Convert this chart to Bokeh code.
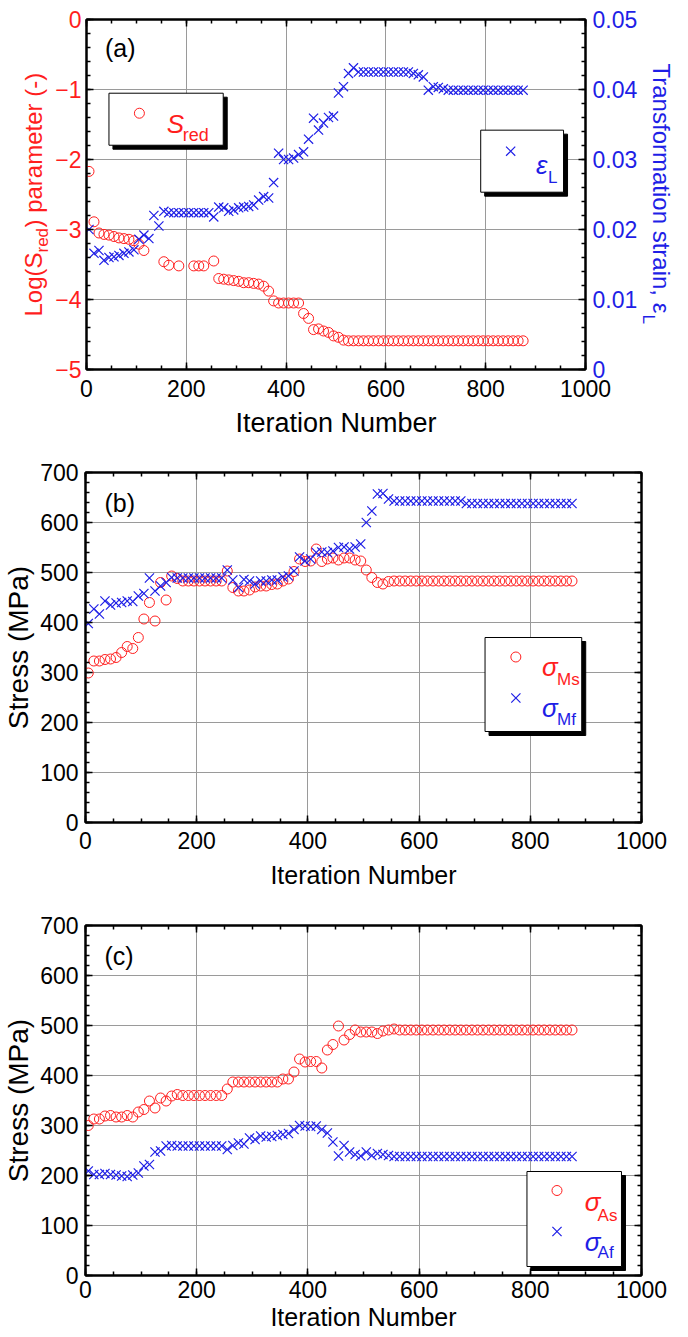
from bokeh.plotting import figure
from bokeh.layouts import row
from bokeh.models import (Range1d, LinearAxis, Label, SingleIntervalTicker,
                          CustomJSTickFormatter)
from bokeh.core.properties import value
from bokeh.embed import file_html
from bokeh.resources import INLINE

NAN = float("nan")

# ---------------- data ----------------
iterations = [5, 15, 25, 35, 45, 55, 65, 75, 85, 95, 105, 115, 125, 135, 145, 155,
              165, 175, 185, 195, 205, 215, 225, 235, 245, 255, 265, 275, 285, 295,
              305, 315, 325, 335, 345, 355, 365, 375, 385, 395, 405, 415, 425, 435,
              445, 455, 465, 475, 485, 495, 505, 515, 525, 535, 545, 555, 565, 575,
              585, 595, 605, 615, 625, 635, 645, 655, 665, 675, 685, 695, 705, 715,
              725, 735, 745, 755, 765, 775, 785, 795, 805, 815, 825, 835, 845, 855,
              865, 875]

log_s_red = [-2.17, -2.89, -3.05, -3.07, -3.08, -3.10, -3.12, -3.13, -3.14, -3.16,
             -3.21, -3.30, NAN, NAN, NAN, -3.46, -3.51, NAN, -3.52, NAN, NAN, -3.52,
             -3.52, -3.52, NAN, -3.45, -3.70, -3.71, -3.72, -3.73, -3.74, -3.76,
             -3.76, -3.77, -3.78, -3.81, -3.88, -4.02, -4.05, -4.05, -4.05, -4.05,
             -4.05, -4.20, -4.27, -4.43, -4.42, -4.45, -4.47, -4.52, -4.54, -4.58,
             -4.59, -4.59, -4.59, -4.59, -4.59, -4.59, -4.59, -4.59, -4.59, -4.59,
             -4.59, -4.59, -4.59, -4.59, -4.59, -4.59, -4.59, -4.59, -4.59, -4.59,
             -4.59, -4.59, -4.59, -4.59, -4.59, -4.59, -4.59, -4.59, -4.59, -4.59,
             -4.59, -4.59, -4.59, -4.59, -4.59, -4.59]

eps_l = [0.0200, 0.0166, 0.0170, 0.0156, 0.0160, 0.0161, 0.0163, 0.0166, 0.0168,
         0.0171, 0.0186, 0.0192, 0.0187, 0.0220, 0.0205, 0.0226, 0.0224, 0.0224,
         0.0224, 0.0224, 0.0224, 0.0224, 0.0224, 0.0224, 0.0224, 0.0218, 0.0232,
         0.0231, 0.0226, 0.0228, 0.0231, 0.0232, 0.0233, 0.0235, 0.0242, 0.0247,
         0.0245, 0.0267, 0.0309, 0.0300, 0.0300, 0.0302, 0.0307, 0.0311, 0.0329,
         0.0359, 0.0342, 0.0352, 0.0360, 0.0362, 0.0395, 0.0404, 0.0423, 0.0431,
         0.0425, 0.0425, 0.0425, 0.0425, 0.0425, 0.0425, 0.0425, 0.0425, 0.0425,
         0.0425, 0.0425, 0.0423, 0.0421, 0.0418, 0.0399, 0.0404, 0.0403, 0.0401,
         0.0399, 0.0399, 0.0399, 0.0399, 0.0399, 0.0399, 0.0399, 0.0399, 0.0399,
         0.0399, 0.0399, 0.0399, 0.0399, 0.0399, 0.0399, 0.0399]

sigma_ms = [299, 323, 323, 326, 327, 330, 340, 352, 348, 370, 407, 440, 403, 480,
            445, 493, 488, 483, 483, 483, 483, 483, 483, 483, 483, 503, 470, 463,
            463, 465, 471, 473, 473, 476, 477, 483, 487, 502, 527, 522, 523, 547,
            522, 527, 529, 525, 529, 529, 525, 523, 505, 490, 480, 477, 482, 483,
            483, 483, 483, 483, 483, 483, 483, 483, 483, 483, 483, 483, 483, 483,
            483, 483, 483, 483, 483, 483, 483, 483, 483, 483, 483, 483, 483, 483,
            483, 483, 483, 483]

sigma_mf = [398, 427, 417, 443, 435, 439, 440, 443, 442, 453, 458, 489, 463, 473,
            480, 490, 489, 489, 489, 489, 489, 489, 489, 489, 489, 505, 485, 470,
            486, 483, 477, 483, 483, 485, 485, 491, 493, 503, 531, 523, 527, 540,
            541, 540, 543, 550, 551, 547, 551, 557, 600, 623, 657, 658, 647, 643,
            643, 643, 643, 643, 643, 643, 643, 643, 643, 643, 643, 643, 638, 638,
            638, 638, 638, 638, 638, 638, 638, 638, 638, 638, 638, 638, 638, 638,
            638, 638, 638, 638]

sigma_as = [300, 313, 313, 319, 320, 317, 317, 320, 317, 327, 332, 349, 335, 355,
            349, 359, 362, 360, 360, 360, 360, 360, 360, 360, 360, 373, 387, 387,
            387, 387, 387, 387, 387, 387, 387, 393, 393, 407, 433, 427, 428, 428,
            415, 451, 462, 499, 471, 482, 491, 487, 487, 487, 484, 489, 491, 493,
            491, 491, 491, 491, 491, 491, 491, 491, 491, 491, 491, 491, 491, 491,
            491, 491, 491, 491, 491, 491, 491, 491, 491, 491, 491, 491, 491, 491,
            491, 491, 491, 491]

sigma_af = [209, 202, 202, 204, 202, 201, 199, 198, 201, 205, 219, 222, 247, 249,
            259, 260, 259, 259, 259, 259, 259, 259, 259, 259, 259, 252, 260, 265,
            263, 275, 272, 279, 277, 278, 280, 282, 284, 292, 300, 299, 298, 299,
            292, 285, 267, 239, 260, 247, 242, 239, 247, 240, 244, 242, 240, 238,
            238, 238, 238, 238, 238, 238, 238, 238, 238, 238, 238, 238, 238, 238,
            238, 238, 238, 238, 238, 238, 238, 238, 238, 238, 238, 238, 238, 238,
            238, 238, 238, 238]

x_title = "Iteration Number"
stress_title = "Stress (MPa)"

# ---------------- style ----------------
FONT = "Liberation Sans"
RED = "#ff1e1e"
BLUE = "#1e1ee6"
GRID = "#9a9a9a"
ROT = 1.5707963267948966


def blank_fmt():
    return CustomJSTickFormatter(code="return ''")


def style_axis(ax, size, color="black", blank=False):
    ax.axis_line_color = "black"
    ax.axis_line_width = 2
    ax.major_tick_in = 7
    ax.major_tick_out = 0
    ax.minor_tick_in = 4
    ax.minor_tick_out = 0
    ax.major_tick_line_color = "black"
    ax.minor_tick_line_color = "black"
    ax.major_tick_line_width = 1.5
    ax.minor_tick_line_width = 1.5
    ax.major_label_text_font = FONT
    ax.major_label_text_color = color
    ax.axis_label_text_font = FONT
    ax.axis_label_text_font_style = "normal"
    ax.axis_label_text_color = color
    if blank:
        ax.formatter = blank_fmt()
        ax.major_label_text_font_size = "0px"
        ax.major_label_standoff = 0
    else:
        ax.major_label_text_font_size = size
        ax.major_label_standoff = 7


def base_fig(width, height, left_border, right_border, top_border, bottom_border,
             y0, y1, yint, tick_size, title_size):
    p = figure(width=width, height=height, x_range=Range1d(0, 1000),
               y_range=Range1d(y0, y1), min_border_left=left_border,
               min_border_right=right_border, min_border_top=top_border,
               min_border_bottom=bottom_border, output_backend="svg",
               toolbar_location=None)
    p.outline_line_color = "black"
    p.outline_line_width = 2
    p.outline_line_alpha = 1
    p.background_fill_color = "white"
    p.border_fill_color = "white"
    xa = p.below[0]
    ya = p.left[0]
    xa.ticker = SingleIntervalTicker(interval=200, num_minor_ticks=4)
    ya.ticker = SingleIntervalTicker(interval=yint, num_minor_ticks=5)
    style_axis(xa, tick_size)
    style_axis(ya, tick_size)
    xa.axis_label = x_title
    xa.axis_label_text_font_size = title_size
    p.xgrid.grid_line_color = GRID
    p.ygrid.grid_line_color = GRID
    p.xgrid.grid_line_width = 1
    p.ygrid.grid_line_width = 1
    top = LinearAxis(ticker=SingleIntervalTicker(interval=200, num_minor_ticks=4))
    style_axis(top, tick_size, blank=True)
    p.add_layout(top, "above")
    return p, xa, ya


def legend_box(p, left, right, top, bottom, dx, dy):
    p.quad(left=[left + dx], right=[right + dx], top=[top - dy], bottom=[bottom - dy],
           fill_color="black", line_color="black")
    p.quad(left=[left], right=[right], top=[top], bottom=[bottom],
           fill_color="white", line_color="black", line_width=1)


def lab(p, x, y, text, size, color, italic=False):
    p.add_layout(Label(x=x, y=y, text=text, text_font=FONT, text_font_size=size,
                       text_color=color, text_font_style="italic" if italic else "normal",
                       text_align="left", text_baseline="alphabetic"))


def strip(width, x0, x1):
    s = figure(width=width, height=453, x_range=Range1d(x0, x1),
               y_range=Range1d(369, 19), min_border_left=0, min_border_right=0,
               min_border_top=19, min_border_bottom=84, x_axis_location=None,
               y_axis_location=None, output_backend="svg", toolbar_location=None)
    s.outline_line_color = None
    s.xgrid.visible = False
    s.ygrid.visible = False
    s.background_fill_color = "white"
    s.border_fill_color = "white"
    return s


def stext(s, x, y, text, size, color, angle):
    s.text(x=[x], y=[y], text=[text], angle=angle, text_font=value(FONT),
           text_font_size=value(size), text_color=color, text_align="left",
           text_baseline="alphabetic")


MS_C = 10
MS_X = 13
LW_X = 1.2

# ---------------- panel (a) ----------------
pa, xa_a, ya_a = base_fig(588, 453, 31, 51, 19, 84, -5, 0, 1, "23px", "27px")
ya_a.major_label_text_color = RED
ya_a.major_label_standoff = 5
xa_a.major_label_standoff = 10
xa_a.axis_label_standoff = 8
pa.extra_y_ranges = {"eps": Range1d(0, 0.05)}
ra = LinearAxis(y_range_name="eps",
                ticker=SingleIntervalTicker(interval=0.01, num_minor_ticks=5))
style_axis(ra, "23px", BLUE)
ra.major_label_overrides = {0: "0"}
pa.add_layout(ra, "right")

legend_box(pa, 45, 274, -1.053, -1.796, 8, 0.057)
legend_box(pa, 790, 956, -1.581, -2.467, 8, 0.057)

pa.scatter(iterations, log_s_red, marker="circle", size=MS_C, fill_color=None,
           line_color=RED, line_width=1)
pa.scatter(iterations, eps_l, marker="x", size=MS_X, line_color=BLUE, line_width=LW_X,
           y_range_name="eps")
pa.scatter([106], [-1.339], marker="circle", size=MS_C, fill_color=None,
           line_color=RED, line_width=1)
pa.scatter([850], [-1.881], marker="x", size=MS_X, line_color=BLUE, line_width=LW_X)

lab(pa, 37, -0.41, "(a)", "25px", "black")
lab(pa, 161, -1.496, "S", "26px", RED, italic=True)
lab(pa, 193, -1.653, "red", "18px", RED)
lab(pa, 901, -2.081, "\u03b5", "26px", BLUE, italic=True)
lab(pa, 925, -2.253, "L", "17px", BLUE)

left_strip = strip(52, 0, 52)
stext(left_strip, 33, 316, "Log(S", "24px", RED, ROT)
stext(left_strip, 42, 252, "red", "17px", RED, ROT)
stext(left_strip, 33, 227, ") parameter (-)", "24px", RED, ROT)

right_strip = strip(48, 640, 688)
stext(right_strip, 661, 63, "Transformation strain, \u03b5", "24px", BLUE, -ROT)
stext(right_strip, 648, 314, "L", "17px", BLUE, -ROT)

panel_a = row(left_strip, pa, right_strip)

# ---------------- panel (b) ----------------
pb, xa_b, ya_b = base_fig(688, 451, 83, 47, 19, 82, 0, 700, 100, "23px", "25px")
ya_b.axis_label = stress_title
ya_b.axis_label_text_font_size = "28px"
ya_b.axis_label_standoff = 3
xa_b.major_label_standoff = 9
xa_b.axis_label_standoff = 9
rb = LinearAxis(ticker=SingleIntervalTicker(interval=100, num_minor_ticks=5))
style_axis(rb, "23px", blank=True)
pb.add_layout(rb, "right")

legend_box(pb, 718.6, 892.5, 370, 182, 7.2, 8)
pb.scatter(iterations, sigma_ms, marker="circle", size=MS_C, fill_color=None,
           line_color=RED, line_width=1)
pb.scatter(iterations, sigma_mf, marker="x", size=MS_X, line_color=BLUE, line_width=LW_X)
pb.scatter([774], [331], marker="circle", size=MS_C, fill_color=None,
           line_color=RED, line_width=1)
pb.scatter([774], [249], marker="x", size=MS_X, line_color=BLUE, line_width=LW_X)
lab(pb, 34, 639, "(b)", "25px", "black")
lab(pb, 821, 311, "\u03c3", "26px", RED, italic=True)
lab(pb, 848, 287, "Ms", "17px", RED)
lab(pb, 821, 229, "\u03c3", "26px", BLUE, italic=True)
lab(pb, 848, 207, "Mf", "17px", BLUE)

# ---------------- panel (c) ----------------
pc, xa_c, ya_c = base_fig(688, 433, 83, 47, 21, 62, 0, 700, 100, "23px", "25px")
ya_c.axis_label = stress_title
ya_c.axis_label_text_font_size = "28px"
ya_c.axis_label_standoff = 3
xa_c.major_label_standoff = 5
xa_c.axis_label_standoff = 2
rc = LinearAxis(ticker=SingleIntervalTicker(interval=100, num_minor_ticks=5))
style_axis(rc, "23px", blank=True)
pc.add_layout(rc, "right")

legend_box(pc, 794, 964, 208, 18, 7.2, 8)
pc.scatter(iterations, sigma_as, marker="circle", size=MS_C, fill_color=None,
           line_color=RED, line_width=1)
pc.scatter(iterations, sigma_af, marker="x", size=MS_X, line_color=BLUE, line_width=LW_X)
pc.scatter([848], [170], marker="circle", size=MS_C, fill_color=None,
           line_color=RED, line_width=1)
pc.scatter([848], [88], marker="x", size=MS_X, line_color=BLUE, line_width=LW_X)
lab(pc, 34, 640, "(c)", "25px", "black")
lab(pc, 898, 148, "\u03c3", "26px", RED, italic=True)
lab(pc, 921, 120, "As", "17px", RED)
lab(pc, 898, 68, "\u03c3", "26px", BLUE, italic=True)
lab(pc, 921, 46, "Af", "17px", BLUE)

open("out.html", "w").write(file_html([panel_a, pb, pc], INLINE))
